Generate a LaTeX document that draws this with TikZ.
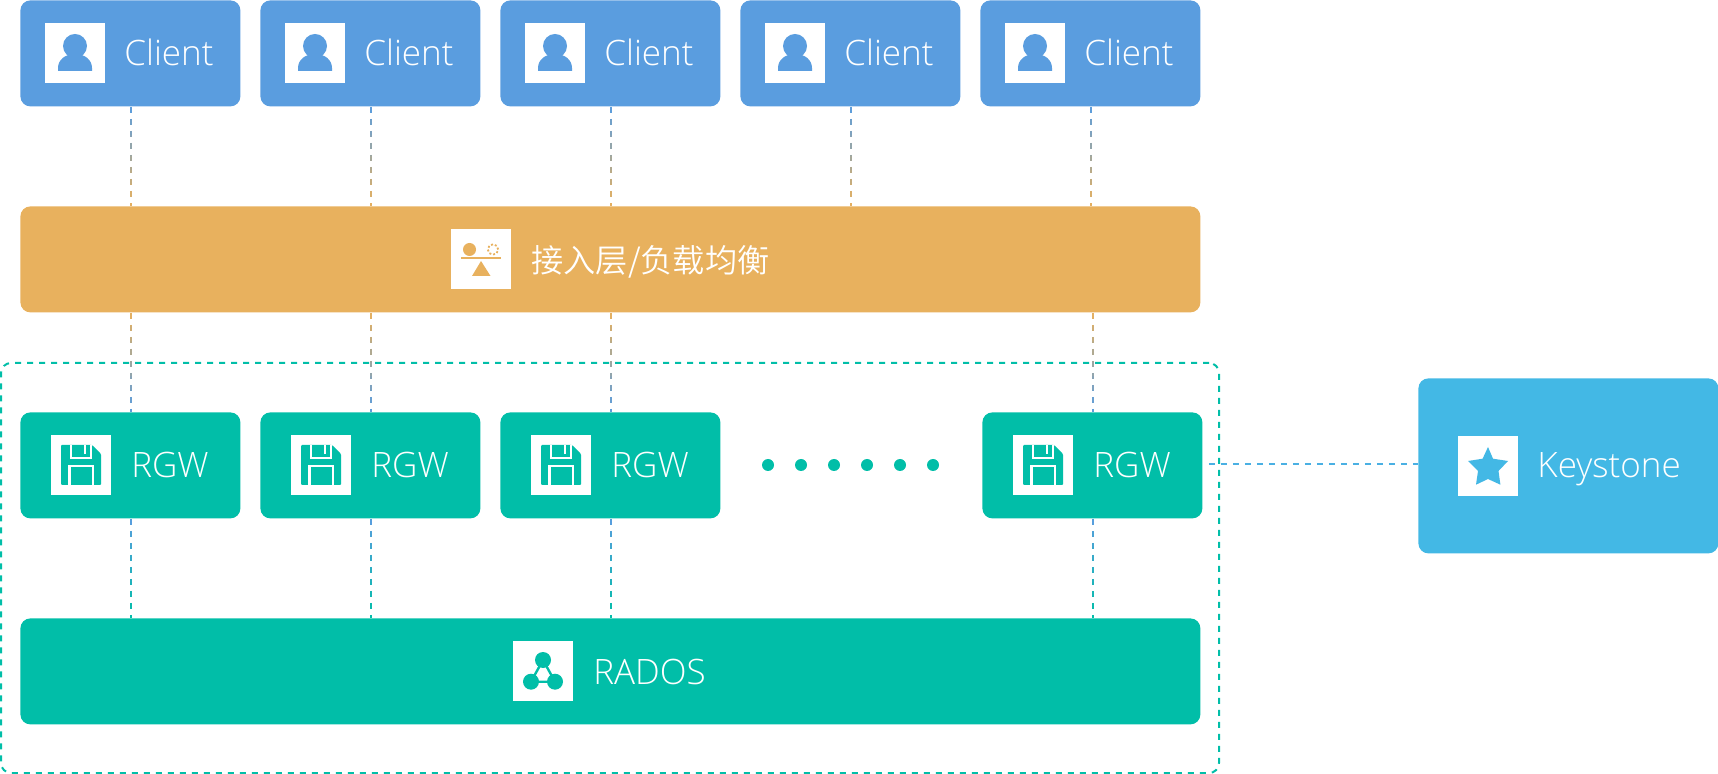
\documentclass[tikz,border=0pt]{standalone}
\usepackage{fontspec}
\setmainfont{Open Sans}[UprightFont={* Light}]
\newfontfamily\cjk{Noto Sans CJK SC DemiLight}
\usepackage{tikz}
\usetikzlibrary{calc,backgrounds}
\definecolor{clientblue}{HTML}{5A9DDF}
\definecolor{lborange}{HTML}{E8B15E}
\definecolor{radosgreen}{HTML}{01BEA8}
\definecolor{keyblue}{HTML}{43B8E5}
\tikzstyle{box}=[rectangle,rounded corners=5pt,anchor=north west,inner sep=0pt]
\tikzstyle{client}=[box,minimum width=110pt,minimum height=53pt,fill=clientblue]
\tikzstyle{rgw}=[box,minimum width=110pt,minimum height=53pt,fill=radosgreen]
\tikzstyle{bar}=[box,minimum width=590pt,minimum height=53pt]
\tikzstyle{keystone}=[box,minimum width=150pt,minimum height=87.5pt,fill=keyblue]
\tikzstyle{icon}=[rectangle,anchor=north west,fill=white,inner sep=0pt,minimum width=30pt,minimum height=30pt]
\tikzstyle{caption}=[anchor=base west,inner sep=0pt,text=white,font=\fontsize{17.5}{20}\selectfont]
\tikzstyle{linkline}=[line width=1pt,dash pattern=on 3pt off 3pt]
\tikzstyle{zone}=[rectangle,rounded corners=5pt,draw=radosgreen,line width=1pt,dash pattern=on 3pt off 3pt,minimum width=609pt,minimum height=205pt]
\tikzstyle{dot}=[circle,fill=radosgreen,inner sep=0pt,minimum size=6pt]
% dashed link whose colour runs from #3 to #4
\newcommand{\fadelink}[4]{%
  \coordinate (fa) at (#1);
  \coordinate (fb) at (#2);
  \foreach \k in {1,...,14}{%
    \pgfmathsetmacro{\fadeA}{(\k-1)/14}
    \pgfmathsetmacro{\fadeB}{\k/14}
    \pgfmathsetmacro{\fadeC}{100*(\k-0.5)/14}
    \begin{scope}
      \clip ($(fa)!\fadeA!(fb)+(-5,0)$) rectangle ($(fa)!\fadeB!(fb)+(7,0)$);
      \draw[linkline,draw=#4!\fadeC!#3] ($(fa)+(1,0)$) -- ($(fb)+(1,0)$);
    \end{scope}}}
% glyphs, drawn from the top left corner of an icon
\newcommand{\userglyph}[2]{%
  \begin{scope}[shift={(#1)}]
    \fill[#2] (30,23) circle (6pt);
    \fill[#2] (13,48) -- (13,45) .. controls (13,37) and (20,31) .. (30,31)
      .. controls (40,31) and (47,37) .. (47,45) -- (47,48) -- cycle;
  \end{scope}}
\newcommand{\balanceglyph}[2]{%
  \begin{scope}[shift={(#1)}]
    \fill[#2] (18.5,20.5) circle (3.25pt);
    \draw[#2,line width=0.9pt,dash pattern=on 1pt off 1pt] (42,20.5) circle (2.6pt);
    \fill[#2] (10,28) rectangle (50,30.5);
    \fill[#2] (30,32) -- (39.5,47) -- (21,47) -- cycle;
  \end{scope}}
\newcommand{\diskglyph}[2]{%
  \begin{scope}[shift={(#1)}]
    \fill[#2,rounded corners=0.5pt] (10,10) -- (41,10) -- (50,19) -- (50,50) -- (10,50) -- cycle;
    \draw[white,line width=1.3pt] (20,10) -- (20,23) -- (40,23) -- (40,10);
    \draw[white,line width=1.3pt] (34,10) -- (34,19);
    \draw[white,line width=1.3pt] (18.5,50) -- (18.5,31) -- (42,31) -- (42,50);
  \end{scope}}
\newcommand{\radosglyph}[2]{%
  \begin{scope}[shift={(#1)}]
    \draw[#2,line width=1.2pt] (30,19) -- (18,40.7) -- (42,40.7) -- cycle;
    \fill[#2] (30,19) circle (4pt);
    \fill[#2] (18,40.7) circle (4pt);
    \fill[#2] (42,40.7) circle (4pt);
  \end{scope}}
\newcommand{\starglyph}[2]{%
  \begin{scope}[shift={(#1)}]
    \fill[#2] (30,11) -- (35,22.7) -- (50,25) -- (40.5,35) -- (42.4,48.7) -- (30,43)
      -- (18,48.7) -- (20,35) -- (10,25) -- (24.6,22.7) -- cycle;
  \end{scope}}
\begin{document}
\begin{tikzpicture}[x=0.5pt,y=-0.5pt]
    \useasboundingbox (0,0) rectangle (1718,774);
    % First row: clients
    \node (client1) [client] at (20,0) {};
    \node (client2) [client] at (260,0) {};
    \node (client3) [client] at (500,0) {};
    \node (client4) [client] at (740,0) {};
    \node (client5) [client] at (980,0) {};
    \foreach \n/\x in {1/45,2/285,3/525,4/765,5/1005}{
      \node (usericon\n) [icon] at (\x,23) {};
      \userglyph{\x,23}{clientblue}
      \node (clienttext\n) [caption] at (\x+79,66) {Client};
    }
    % Second row: access layer
    \node (lb) [bar,fill=lborange] at (20,206) {};
    \node (lbicon) [icon] at (451,229) {};
    \balanceglyph{451,229}{lborange}
    \node (lbtext) [caption,font=\fontsize{16.1}{18}\selectfont] at (531,273) {\cjk 接入层/负载均衡};
    % Third row: gateways
    \node (rgw1) [rgw] at (20,412) {};
    \node (rgw2) [rgw] at (260,412) {};
    \node (rgw3) [rgw] at (500,412) {};
    \node (rgw4) [rgw] at (982,412) {};
    \foreach \n/\x in {1/51,2/291,3/531,4/1013}{
      \node (diskicon\n) [icon] at (\x,435) {};
      \diskglyph{\x,435}{radosgreen}
      \node (rgwtext\n) [caption] at (\x+80,478) {RGW};
    }
    \foreach \n/\x in {1/768,2/801,3/834,4/867,5/900,6/933}{
      \node (dot\n) [dot] at (\x,465) {};
    }
    % Fourth row: storage
    \node (rados) [bar,fill=radosgreen] at (20,618) {};
    \node (radosicon) [icon] at (513,641) {};
    \radosglyph{513,641}{radosgreen}
    \node (radostext) [caption] at (593,684) {RADOS};
    % On the right: Keystone
    \node (key) [keystone] at (1418,378) {};
    \node (keyicon) [icon] at (1458,436) {};
    \starglyph{1458,436}{keyblue}
    \node (keytext) [caption] at (1537,478) {Keystone};
    \coordinate (keyport) at (key.west |- 0,464);
    % The frame and the links go under the boxes:
    \begin{scope}[on background layer]
      \node (zone) [zone] at (610,568) {};
      \fadelink{client1.south}{client1.south |- lb.north}{clientblue}{lborange}
      \fadelink{client2.south}{client2.south |- lb.north}{clientblue}{lborange}
      \fadelink{client3.south}{client3.south |- lb.north}{clientblue}{lborange}
      \fadelink{client4.south}{client4.south |- lb.north}{clientblue}{lborange}
      \fadelink{client5.south}{client5.south |- lb.north}{clientblue}{lborange}

      \fadelink{lb.south -| rgw1.north}{rgw1.north}{lborange}{clientblue}
      \fadelink{lb.south -| rgw2.north}{rgw2.north}{lborange}{clientblue}
      \fadelink{lb.south -| rgw3.north}{rgw3.north}{lborange}{clientblue}
      \fadelink{lb.south -| rgw4.north}{rgw4.north}{lborange}{clientblue}

      \fadelink{rgw1.south}{rgw1.south |- rados.north}{clientblue}{radosgreen}
      \fadelink{rgw2.south}{rgw2.south |- rados.north}{clientblue}{radosgreen}
      \fadelink{rgw3.south}{rgw3.south |- rados.north}{clientblue}{radosgreen}
      \fadelink{rgw4.south}{rgw4.south |- rados.north}{clientblue}{radosgreen}

      \draw[linkline,dash phase=3pt,draw=keyblue!70!clientblue] (rgw4.east |- keyport) -- (keyport);
    \end{scope}
\end{tikzpicture}
\end{document}
